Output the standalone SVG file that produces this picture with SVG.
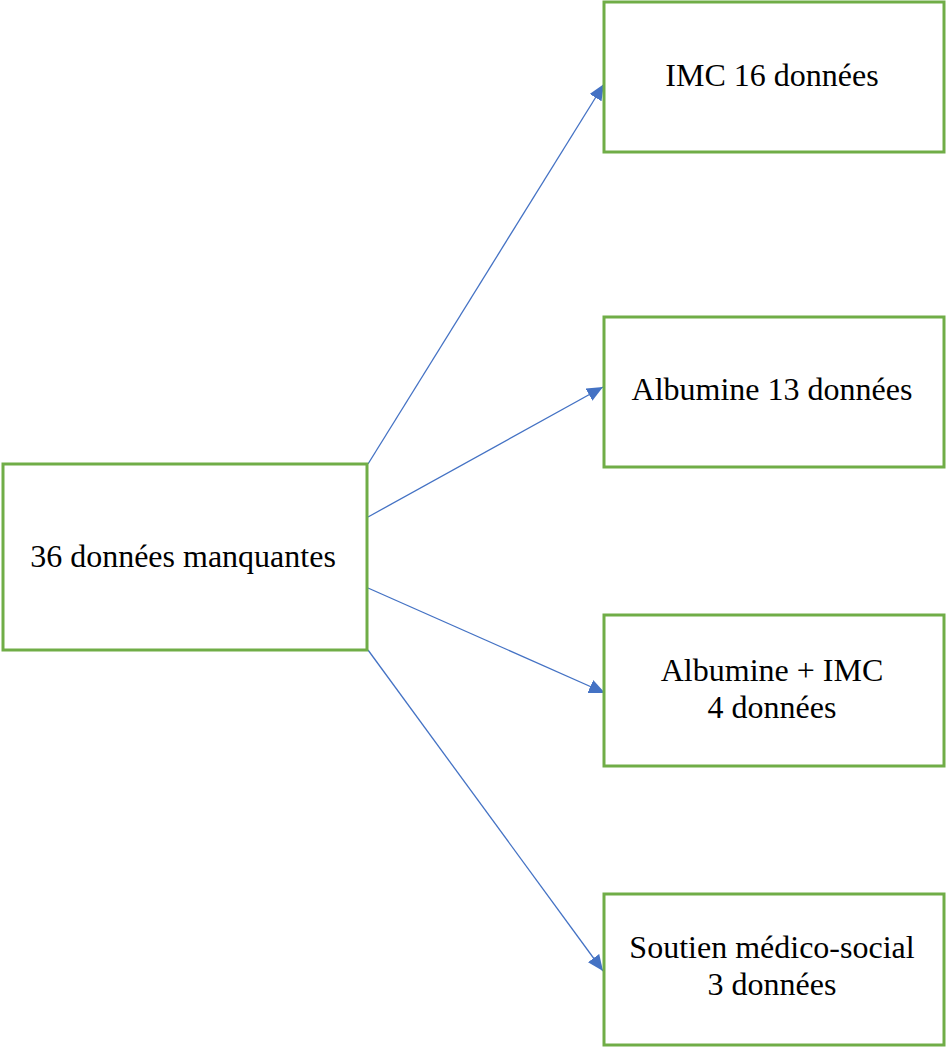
<svg xmlns="http://www.w3.org/2000/svg" width="946" height="1047" viewBox="0 0 946 1047">
<style>
.box{fill:#fff;stroke:#70AD47;stroke-width:3}
.lbl{font-family:"Liberation Serif","Times New Roman",serif;font-size:32px;fill:#000;text-anchor:middle}
.con{stroke:#4472C4;stroke-width:1.3;fill:none;marker-end:url(#ah)}
</style>
<defs>
<marker id="ah" markerUnits="userSpaceOnUse" markerWidth="18" markerHeight="14" refX="16" refY="7" orient="auto">
<path d="M0,0 L16,7 L0,14 Z" fill="#4472C4"/>
</marker>
</defs>
<rect width="946" height="1047" fill="#fff"/>
<g id="connectors">
<line class="con" x1="368" y1="464" x2="604" y2="84"/>
<line class="con" x1="368" y1="517" x2="603" y2="387"/>
<line class="con" x1="368" y1="588" x2="605" y2="693"/>
<line class="con" x1="368" y1="650" x2="603" y2="971"/>
</g>
<g id="n0">
<rect class="box" x="3" y="464" width="364" height="186"/>
<text class="lbl" x="183" y="567">36 données manquantes</text>
</g>
<g id="n1">
<rect class="box" x="604" y="2" width="340" height="150"/>
<text class="lbl" x="772" y="86">IMC 16 données</text>
</g>
<g id="n2">
<rect class="box" x="604" y="317" width="340" height="150"/>
<text class="lbl" x="772" y="400">Albumine 13 données</text>
</g>
<g id="n3">
<rect class="box" x="604" y="615" width="340" height="151"/>
<text class="lbl" x="772" y="681">Albumine + IMC</text>
<text class="lbl" x="772" y="718">4 données</text>
</g>
<g id="n4">
<rect class="box" x="604" y="894" width="340" height="151"/>
<text class="lbl" x="772" y="958">Soutien médico-social</text>
<text class="lbl" x="772" y="995">3 données</text>
</g>
</svg>
